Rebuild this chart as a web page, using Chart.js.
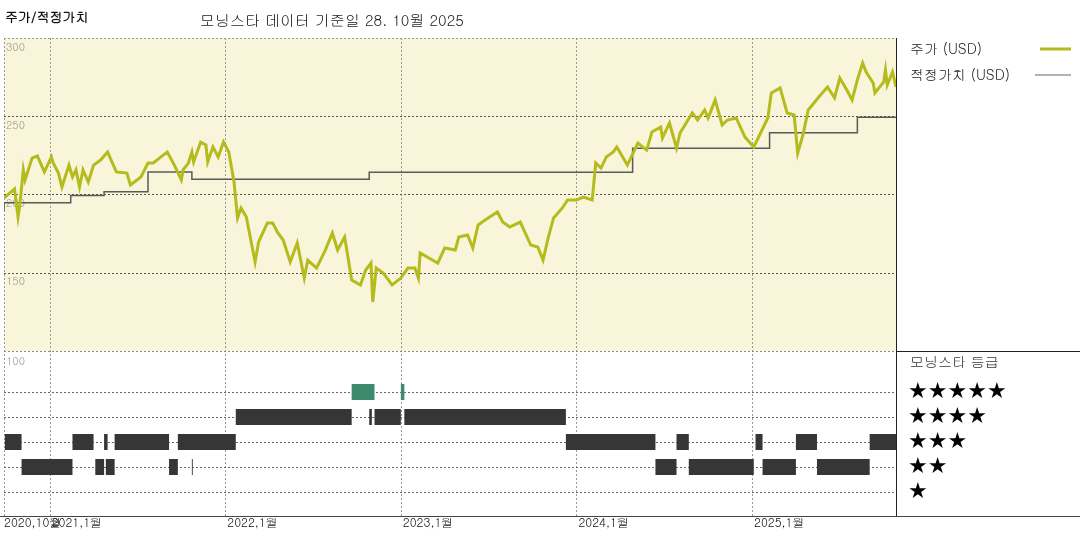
<!DOCTYPE html>
<html><head><meta charset="utf-8">
<script src="https://cdn.jsdelivr.net/npm/chart.js@4"></script>
<style>body{margin:0;background:#fff}canvas{display:block}</style>
</head><body>
<canvas id="c" width="1080" height="540"></canvas>
<script>
const priceX = [2020.74,2020.80,2020.82,2020.83,2020.85,2020.86,2020.90,2020.93,2020.97,2021.01,2021.02,2021.05,2021.07,2021.11,2021.13,2021.15,2021.17,2021.19,2021.22,2021.25,2021.29,2021.33,2021.35,2021.38,2021.44,2021.46,2021.52,2021.56,2021.59,2021.67,2021.71,2021.75,2021.76,2021.79,2021.81,2021.82,2021.86,2021.89,2021.90,2021.93,2021.96,2021.99,2022.02,2022.05,2022.07,2022.09,2022.12,2022.17,2022.19,2022.24,2022.27,2022.30,2022.33,2022.37,2022.41,
2022.45,2022.47,2022.52,2022.57,2022.61,2022.64,2022.68,2022.72,2022.77,2022.80,2022.83,2022.84,2022.86,2022.90,2022.95,2023.00,2023.04,2023.08,2023.10,2023.11,2023.16,2023.21,2023.25,2023.31,2023.33,2023.38,2023.41,2023.44,2023.48,2023.55,2023.58,2023.62,2023.68,2023.74,2023.78,2023.81,2023.84,2023.87,2023.92,2023.95,2024.00,2024.04,2024.09,2024.11,2024.14,2024.17,2024.21,
2024.23,2024.29,2024.35,2024.40,2024.43,2024.48,2024.49,2024.53,2024.57,2024.59,2024.66,2024.69,2024.73,2024.75,2024.79,2024.83,2024.86,2024.91,2024.96,2025.01,2025.09,2025.11,2025.16,2025.20,2025.24,2025.26,2025.29,2025.32,2025.39,2025.43,2025.47,2025.50,2025.54,2025.57,2025.60,2025.63,2025.65,2025.69,2025.70,2025.75,2025.76,2025.77,2025.80,2025.82];
const priceY = [197.8,203.5,185.6,193.3,215.7,209.3,223.3,224.6,214.4,224.0,220.1,213.7,204.8,218.8,211.2,215.7,204.8,215.7,208.0,218.8,222.0,227.2,222.0,214.4,213.7,206.1,211.2,220.1,220.1,227.2,218.8,209.3,215.7,220.1,227.2,220.8,233.5,231.6,220.8,230.3,224.0,233.5,227.2,208.0,185.0,191.4,185.6,156.9,169.6,181.8,181.8,175.4,170.9,156.9,169.0,
146.6,158.1,153.0,164.5,175.4,164.5,172.8,145.4,142.2,151.7,156.2,131.3,153.0,149.8,142.2,146.6,153.0,153.0,146.6,162.6,159.4,156.2,165.8,164.5,172.8,174.1,165.8,180.5,183.7,188.8,182.4,179.2,182.4,167.7,166.4,158.1,172.8,185.0,191.4,196.5,196.5,198.4,196.5,220.1,216.9,224.0,227.2,
230.3,218.8,232.9,228.4,239.9,243.1,236.1,245.7,229.7,239.3,252.1,247.6,254.0,248.9,260.4,244.4,247.6,248.9,236.7,230.3,248.9,264.9,268.1,252.1,250.8,226.5,238.0,254.0,263.6,268.7,261.7,274.4,266.8,260.4,273.2,284.0,278.3,271.2,264.9,271.9,279.6,270.0,278.3,268.7];
const fairX = [2020.74,2021.12,2021.31,2021.56,2021.81,2022.82,2024.32,2025.10,2025.60,2025.67,2025.82];
const fairY = [189.5,194.8,199.3,201.8,214.4,209.7,214.2,229.5,239.5,249.3,249.3];
// rating segments: [start, end]
const rating5 = [[2022.72,2022.85],[2023.00,2023.02]];
const rating4 = [[2022.06,2022.72],[2022.82,2022.835],[2022.85,2023.00],[2023.02,2023.94]];
const rating3 = [[2020.745,2020.84],[2021.13,2021.25],[2021.31,2021.33],[2021.37,2021.68],[2021.73,2022.06],[2023.94,2024.45],[2024.57,2024.64],[2025.02,2025.06],[2025.25,2025.37],[2025.67,2025.82]];
const rating2 = [[2020.84,2021.13],[2021.26,2021.31],[2021.32,2021.37],[2021.68,2021.73],[2021.81,2021.815],[2024.45,2024.57],[2024.64,2025.01],[2025.06,2025.25],[2025.37,2025.67]];
const rating1 = [];
const yearTicks = [2021,2022,2023,2024,2025];
const yearLabels = ['2021,1월','2022,1월','2023,1월','2024,1월','2025,1월'];
const priceTicks = [300,250,200,150];
const titleLeft = '주가/적정가치';
const titleMain = '모닝스타 데이터 기준일 28. 10월 2025';

function segData(segs, lvl){
  const out=[];
  segs.forEach(s=>{out.push({x:s[0],y:lvl});out.push({x:s[1],y:lvl});out.push({x:s[1],y:null});});
  return out;
}
const FONT='Gulim, "Noto Sans CJK KR", "Noto Sans", sans-serif';
const bg = {
  id:'bg',
  beforeDatasetsDraw(ch){
    const c=ch.ctx, x=ch.scales.x, y=ch.scales.y, r=ch.scales.yr;
    const L=x.getPixelForValue(2020.74), R=x.getPixelForValue(2025.82);
    const T=y.getPixelForValue(300), M=y.getPixelForValue(100), B=r.getPixelForValue(0.04);
    c.save();
    c.fillStyle='#f8f5da'; c.fillRect(L,T,R-L,M-T);
    c.setLineDash([2,2]); c.lineWidth=1;
    c.strokeStyle='#999';
    yearTicks.forEach(v=>{const px=Math.round(x.getPixelForValue(v))+0.5;c.beginPath();c.moveTo(px,T);c.lineTo(px,B);c.stroke();});
    c.beginPath();c.moveTo(L+0.5,T);c.lineTo(L+0.5,B);c.stroke();
    c.beginPath();c.moveTo(L,T+0.5);c.lineTo(R,T+0.5);c.stroke();
    c.strokeStyle='#555';
    [250,200,150].forEach(v=>{const py=Math.round(y.getPixelForValue(v))+0.5;c.beginPath();c.moveTo(L,py);c.lineTo(R,py);c.stroke();});
    c.strokeStyle='#888';
    c.beginPath();c.moveTo(L,Math.round(M)+0.5);c.lineTo(R,Math.round(M)+0.5);c.stroke();
    c.strokeStyle='#666';
    [1,2,3,4,5].forEach(v=>{const py=Math.round(r.getPixelForValue(v))+0.5;c.beginPath();c.moveTo(L,py);c.lineTo(R,py);c.stroke();});
    c.setLineDash([]);
    c.fillStyle='#999'; c.font='11px '+FONT; c.textBaseline='top';
    priceTicks.forEach(v=>c.fillText(String(v),L+2,y.getPixelForValue(v)+3));
    c.fillText('100',L+2,M+4);
    c.restore();
  },
  afterDraw(ch){
    const c=ch.ctx, x=ch.scales.x, y=ch.scales.y, r=ch.scales.yr;
    const R=Math.round(x.getPixelForValue(2025.82))+0.5, T=y.getPixelForValue(300), M=Math.round(y.getPixelForValue(100))+0.5, B=Math.round(r.getPixelForValue(0.04))+0.5;
    c.save();
    c.strokeStyle='#222'; c.lineWidth=1;
    c.beginPath();c.moveTo(R,T);c.lineTo(R,B);c.stroke();
    c.beginPath();c.moveTo(R,M);c.lineTo(1080,M);c.stroke();
    c.strokeStyle='#444';
    c.beginPath();c.moveTo(0,B);c.lineTo(1080,B);c.stroke();
    c.fillStyle='#111'; c.font='bold 13px '+FONT; c.textBaseline='middle';
    c.fillText(titleLeft,5,17);
    c.font='15px '+FONT; c.fillStyle='#222';
    c.fillText(titleMain,200,20);
    c.font='14px '+FONT; c.fillStyle='#222';
    c.fillText('주가 (USD)',910,49);
    c.fillText('적정가치 (USD)',910,75);
    c.strokeStyle='#b5bb1c'; c.lineWidth=3;
    c.beginPath();c.moveTo(1040,49);c.lineTo(1071,49);c.stroke();
    c.strokeStyle='#666'; c.lineWidth=1.2;
    c.beginPath();c.moveTo(1035,75);c.lineTo(1071,75);c.stroke();
    c.fillStyle='#333';
    c.fillText('모닝스타 등급',910,362);
    c.fillStyle='#000'; c.font='22px "DejaVu Sans", sans-serif';
    [5,4,3,2,1].forEach(n=>c.fillText('★'.repeat(n),908,r.getPixelForValue(n)));
    c.font='12px '+FONT; c.fillStyle='#111'; c.textBaseline='top';
    c.fillText('2020,10월',4,516);
    yearTicks.forEach((v,i)=>c.fillText(yearLabels[i],x.getPixelForValue(v)+2,516));
    c.restore();
  }
};
const ratingDs = (segs,lvl,col)=>({data:segData(segs,lvl),yAxisID:'yr',borderColor:col,borderWidth:16,borderCapStyle:'butt',pointRadius:0,spanGaps:false});
new Chart(document.getElementById('c'),{
  type:'line',
  data:{datasets:[
    {data:priceX.map((v,i)=>({x:v,y:priceY[i]})),yAxisID:'y',borderColor:'#b5bb1c',borderWidth:3,pointRadius:0,tension:0,order:1},
    {data:fairX.map((v,i)=>({x:v,y:fairY[i]})),yAxisID:'y',borderColor:'#5a5a5a',borderWidth:1.5,pointRadius:0,stepped:'after',order:2},
    ratingDs(rating5,5,'#3f8a6c'),
    ratingDs(rating4,4,'#363636'),
    ratingDs(rating3,3,'#363636'),
    ratingDs(rating2,2,'#363636'),
    ratingDs(rating1,1,'#363636')
  ]},
  options:{
    responsive:false,animation:false,devicePixelRatio:1,
    layout:{padding:{left:4,top:38,right:184,bottom:24}},
    plugins:{legend:{display:false},tooltip:{enabled:false}},
    scales:{
      x:{type:'linear',min:2020.74,max:2025.82,display:false},
      y:{type:'linear',min:-5.44,max:300,display:false},
      yr:{type:'linear',axis:'y',min:0.04,max:19.16,display:false}
    }
  },
  plugins:[bg]
});
</script>
</body></html>
